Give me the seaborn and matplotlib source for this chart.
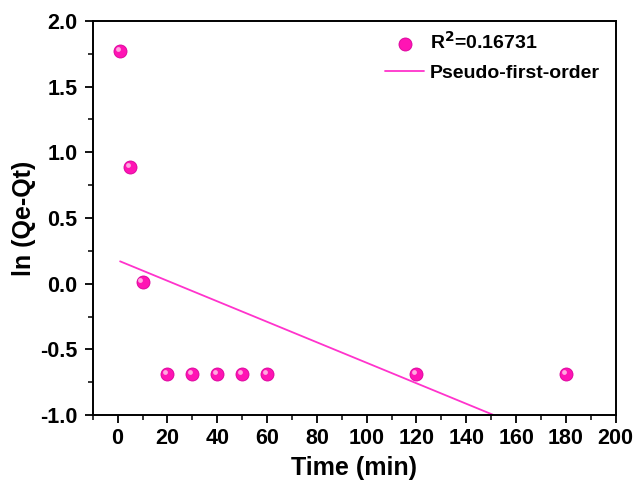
import matplotlib
matplotlib.use("Agg")
import matplotlib.pyplot as plt
import matplotlib.transforms as mtrans
import seaborn as sns
import pandas as pd
from matplotlib.ticker import MultipleLocator

time_min = [1, 5, 10, 20, 30, 40, 50, 60, 120, 180]
ln_qe_qt = [1.77, 0.89, 0.01, -0.69, -0.69, -0.69, -0.69, -0.69, -0.69, -0.69]
fit_x = [1, 151]
fit_y = [0.17, -1.0]

sns.set_style("ticks")
plt.rcParams['font.family'] = ['Liberation Sans', 'DejaVu Sans']
plt.rcParams['font.weight'] = 'bold'
plt.rcParams['axes.unicode_minus'] = False
plt.rcParams['text.color'] = 'black'
plt.rcParams['axes.labelcolor'] = 'black'
plt.rcParams['xtick.color'] = 'black'
plt.rcParams['ytick.color'] = 'black'
plt.rcParams['mathtext.default'] = 'bf'

fig = plt.figure(figsize=(6.41, 4.86), dpi=100)
ax = fig.add_axes([0.1446, 0.146, 0.816, 0.811])

df = pd.DataFrame({"t": time_min, "y": ln_qe_qt})
dfit = pd.DataFrame({"t": fit_x, "y": fit_y})

sns.lineplot(data=dfit, x="t", y="y", ax=ax, color="#ff33cc", lw=1.3,
             label="Pseudo-first-order", zorder=2)
sns.scatterplot(data=df, x="t", y="y", ax=ax, color="#ff14b4", s=88,
                edgecolor="#d8009a", linewidth=0.6, label=r"R$^2$=0.16731", zorder=3)
# highlight for sphere effect
hl = mtrans.offset_copy(ax.transData, fig=fig, x=-1.5, y=1.5, units='points')
ax.scatter(time_min, ln_qe_qt, s=12, color="#ffa8e0", linewidth=0, zorder=4,
           transform=hl)

ax.set_xlim(-10, 200)
ax.set_ylim(-1.0, 2.0)
ax.xaxis.set_major_locator(MultipleLocator(20))
ax.xaxis.set_minor_locator(MultipleLocator(10))
ax.yaxis.set_major_locator(MultipleLocator(0.5))
ax.yaxis.set_minor_locator(MultipleLocator(0.25))
ax.tick_params(which='major', direction='out', length=6, width=1.3, labelsize=15.5,
               top=False, right=False)
ax.tick_params(axis='x', which='major', pad=3.5)
ax.tick_params(axis='y', which='major', pad=5)
ax.tick_params(which='minor', direction='out', length=3.5, width=1.1, top=False, right=False)
for lab in ax.get_xticklabels() + ax.get_yticklabels():
    lab.set_fontweight('bold')
for s in ax.spines.values():
    s.set_linewidth(1.4)
    s.set_color('black')

ax.set_xlabel("Time (min)", fontsize=18, fontweight='bold', labelpad=5)
ax.set_ylabel("ln (Qe-Qt)", fontsize=18, fontweight='bold', labelpad=3)

h, l = ax.get_legend_handles_labels()
leg = ax.legend([h[1], h[0]], [l[1], l[0]], loc='upper left', bbox_to_anchor=(0.559, 0.975),
                frameon=False, prop={'weight': 'bold', 'size': 14}, handlelength=2.0,
                labelspacing=0.6, handletextpad=0.3, borderpad=0, borderaxespad=0)

fig.savefig("out.png", dpi=100, facecolor="white")
